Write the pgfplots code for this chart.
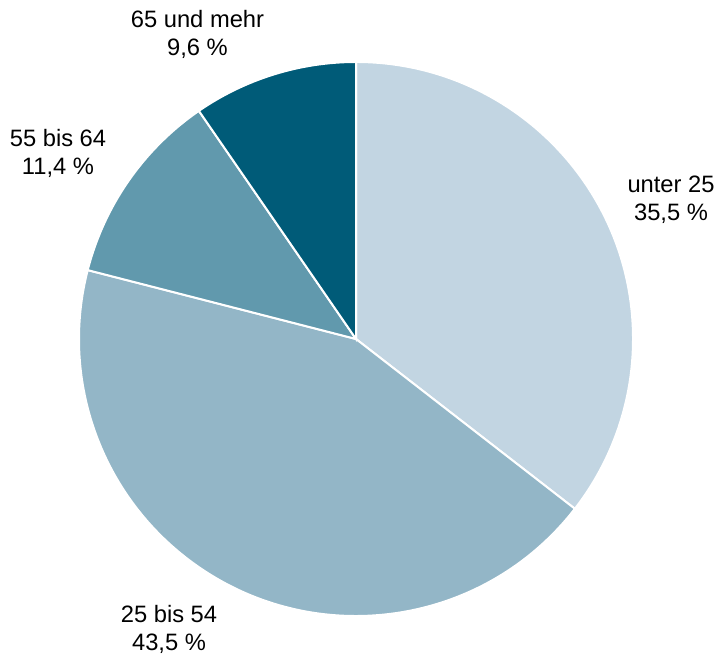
\documentclass[border=0pt]{standalone}
\usepackage{pgfplots}
\pgfplotsset{compat=1.18}
\usepackage{fontspec}
\setmainfont{Liberation Sans}

\definecolor{c1}{HTML}{C2D5E2}
\definecolor{c2}{HTML}{93B6C7}
\definecolor{c3}{HTML}{6199AD}
\definecolor{c4}{HTML}{005B78}

% shares in percent, clockwise from 12 o'clock
\def\pa{35.5}
\def\pb{43.5}
\def\pc{11.4}
\def\pd{9.6}
\pgfmathsetmacro\aa{90}
\pgfmathsetmacro\ab{90-\pa*3.6}
\pgfmathsetmacro\ac{90-(\pa+\pb)*3.6}
\pgfmathsetmacro\ad{90-(\pa+\pb+\pc)*3.6}
\pgfmathsetmacro\ae{90-(\pa+\pb+\pc+\pd)*3.6}

\begin{document}
\begin{tikzpicture}
\begin{axis}[
  hide axis,
  x=0.5bp, y=0.5bp,
  xmin=-356, xmax=364,
  ymin=-317, ymax=339,
  clip=false,
]
  \path (axis cs:-356,-317) rectangle (axis cs:364,339);
  \fill[c1, draw=white, line width=1bp] (axis cs:0,0) -- ++(\aa:138.5bp)
    arc[start angle=\aa, end angle=\ab, radius=138.5bp] -- cycle;
  \fill[c2, draw=white, line width=1bp] (axis cs:0,0) -- ++(\ab:138.5bp)
    arc[start angle=\ab, end angle=\ac, radius=138.5bp] -- cycle;
  \fill[c3, draw=white, line width=1bp] (axis cs:0,0) -- ++(\ac:138.5bp)
    arc[start angle=\ac, end angle=\ad, radius=138.5bp] -- cycle;
  \fill[c4, draw=white, line width=1bp] (axis cs:0,0) -- ++(\ad:138.5bp)
    arc[start angle=\ad, end angle=\ae, radius=138.5bp] -- cycle;

  \tikzset{lbl/.style={align=center, font=\fontsize{11.9}{14}\selectfont, inner sep=0pt}}
  \node[lbl] at (axis cs:315,139) {unter 25\\35,5 \%};
  \node[lbl] at (axis cs:-187,-290) {25 bis 54\\43,5 \%};
  \node[lbl] at (axis cs:-298,185.5) {55 bis 64\\11,4 \%};
  \node[lbl] at (axis cs:-158.5,304.5) {65 und mehr\\9,6 \%};
\end{axis}
\end{tikzpicture}
\end{document}
